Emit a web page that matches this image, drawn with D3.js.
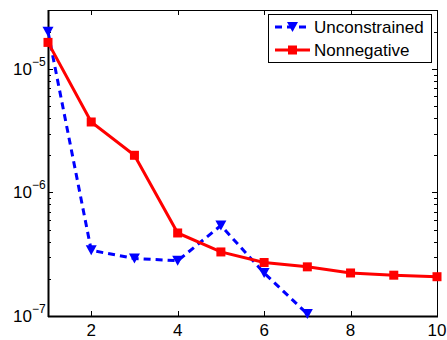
<!DOCTYPE html>
<html>
<head>
<meta charset="utf-8">
<script src="https://cdn.jsdelivr.net/npm/d3@7"></script>
<style>
  html, body { margin: 0; padding: 0; background: #fff; }
  svg { display: block; font-family: "Liberation Sans", Arial, Helvetica, sans-serif; }
</style>
</head>
<body>
<svg id="chart" width="447" height="340"></svg>
<script>
// Iteration index on x
const iterations = [1, 2, 3, 4, 5, 6, 7, 8, 9, 10];
// Error values per iteration (log scale)
const unconstrained = [2.0e-5, 3.4e-7, 2.92e-7, 2.8e-7, 5.4e-7, 2.23e-7, 1.04e-7];
const nonnegative = [1.64e-5, 3.72e-6, 2.0e-6, 4.7e-7, 3.3e-7, 2.71e-7, 2.5e-7, 2.23e-7, 2.14e-7, 2.08e-7];
const seriesNames = ["Unconstrained", "Nonnegative"];
const xTicks = [2, 4, 6, 8, 10];
const yTicks = [1e-7, 1e-6, 1e-5];
const yExponents = ["\u22127", "\u22126", "\u22125"];

const svg = d3.select("#chart");
const plot = { left: 48, top: 10, right: 437, bottom: 316 };

const x = d3.scaleLinear().domain([1, 10]).range([plot.left, plot.right]);
const y = d3.scaleLog().domain([1e-7, 3e-5]).range([plot.bottom, plot.top]);

// Clip the series to the axes box
svg.append("defs").append("clipPath").attr("id", "clip")
  .append("rect")
  .attr("x", plot.left).attr("y", plot.top)
  .attr("width", plot.right - plot.left).attr("height", plot.bottom - plot.top);

// Axes: ticks pointing inward on all four sides
const tickLen = 5;
const minorTicks = [];
for (let e = -7; e <= -5; e++) {
  for (let m = 2; m <= 9; m++) {
    const v = m * Math.pow(10, e);
    if (v <= 3e-5) minorTicks.push(v);
  }
}

const axes = svg.append("g").attr("stroke", "#000").attr("stroke-width", 1);
// x ticks bottom & top
xTicks.forEach(t => {
  const px = Math.round(x(t)) + 0.5;
  axes.append("line").attr("x1", px).attr("x2", px).attr("y1", plot.bottom).attr("y2", plot.bottom - tickLen);
  axes.append("line").attr("x1", px).attr("x2", px).attr("y1", plot.top).attr("y2", plot.top + tickLen);
});
// y major ticks left & right
yTicks.forEach(t => {
  const py = Math.round(y(t)) + 0.5;
  axes.append("line").attr("x1", plot.left).attr("x2", plot.left + tickLen).attr("y1", py).attr("y2", py);
  axes.append("line").attr("x1", plot.right).attr("x2", plot.right - tickLen).attr("y1", py).attr("y2", py);
});
// y minor ticks
minorTicks.forEach(t => {
  const py = Math.round(y(t)) + 0.5;
  axes.append("line").attr("x1", plot.left).attr("x2", plot.left + 3).attr("y1", py).attr("y2", py);
  axes.append("line").attr("x1", plot.right).attr("x2", plot.right - 3).attr("y1", py).attr("y2", py);
});
// frame
axes.append("rect")
  .attr("x", plot.left + 0.5).attr("y", plot.top + 0.5)
  .attr("width", plot.right - plot.left).attr("height", plot.bottom - plot.top)
  .attr("fill", "none");
// heavier left and bottom spines
axes.append("line").attr("x1", plot.left + 0.5).attr("x2", plot.left + 0.5)
  .attr("y1", plot.top).attr("y2", plot.bottom + 1).attr("stroke-width", 2);
axes.append("line").attr("x1", plot.left).attr("x2", plot.right + 1)
  .attr("y1", plot.bottom + 0.5).attr("y2", plot.bottom + 0.5).attr("stroke-width", 2);

// x tick labels
svg.append("g").selectAll("text").data(xTicks).join("text")
  .attr("x", d => x(d))
  .attr("y", 336)
  .attr("text-anchor", "middle")
  .attr("font-size", 17)
  .attr("fill", "#000")
  .text(d => d);

// y tick labels: 10 with superscript exponent
const yl = svg.append("g");
yTicks.forEach((t, i) => {
  const txt = yl.append("text")
    .attr("x", 32)
    .attr("y", y(t) + 6)
    .attr("text-anchor", "end")
    .attr("font-size", 17)
    .attr("fill", "#000")
    .text("10");
  yl.append("text")
    .attr("x", 32)
    .attr("y", y(t) - 3)
    .attr("font-size", 12)
    .attr("fill", "#000")
    .text(yExponents[i]);
});

const line = d3.line().x(d => x(d[0])).y(d => y(d[1]));
const series = svg.append("g").attr("clip-path", "url(#clip)");

const unData = unconstrained.map((v, i) => [iterations[i], v]);
const nnData = nonnegative.map((v, i) => [iterations[i], v]);

const triPath = "M-5.5,-5L5.5,-5L0,5Z";
const sq = 9;

// Unconstrained: blue dashed with downward triangles
series.append("path").datum(unData)
  .attr("d", line)
  .attr("fill", "none")
  .attr("stroke", "#0000ff")
  .attr("stroke-width", 3)
  .attr("stroke-dasharray", "7,5");

// Nonnegative: red solid with squares
series.append("path").datum(nnData)
  .attr("d", line)
  .attr("fill", "none")
  .attr("stroke", "#ff0000")
  .attr("stroke-width", 3);

const markers = svg.append("g");
markers.selectAll("path.tri").data(unData).join("path")
  .attr("class", "tri")
  .attr("d", triPath)
  .attr("transform", d => `translate(${x(d[0])},${y(d[1])})`)
  .attr("fill", "#0000ff");
markers.selectAll("rect.sq").data(nnData).join("rect")
  .attr("class", "sq")
  .attr("x", d => x(d[0]) - sq / 2)
  .attr("y", d => y(d[1]) - sq / 2)
  .attr("width", sq).attr("height", sq)
  .attr("fill", "#ff0000");

// Legend
const lg = svg.append("g");
lg.append("rect")
  .attr("x", 268.5).attr("y", 14.5).attr("width", 163).attr("height", 48)
  .attr("fill", "#fff").attr("stroke", "#000").attr("stroke-width", 1);
const legendRows = [
  { name: seriesNames[0], color: "#0000ff", dash: "7,5", marker: "tri", cy: 27 },
  { name: seriesNames[1], color: "#ff0000", dash: null, marker: "sq", cy: 50 }
];
legendRows.forEach(r => {
  lg.append("line")
    .attr("x1", 275).attr("x2", 310).attr("y1", r.cy).attr("y2", r.cy)
    .attr("stroke", r.color).attr("stroke-width", 3)
    .attr("stroke-dasharray", r.dash);
  if (r.marker === "tri") {
    lg.append("path").attr("d", triPath)
      .attr("transform", `translate(292.5,${r.cy})`).attr("fill", r.color);
  } else {
    lg.append("rect").attr("x", 292.5 - sq / 2).attr("y", r.cy - sq / 2)
      .attr("width", sq).attr("height", sq).attr("fill", r.color);
  }
  lg.append("text")
    .attr("x", 314).attr("y", r.cy + 6)
    .attr("font-size", 17).attr("fill", "#000")
    .text(r.name);
});
</script>
</body>
</html>
